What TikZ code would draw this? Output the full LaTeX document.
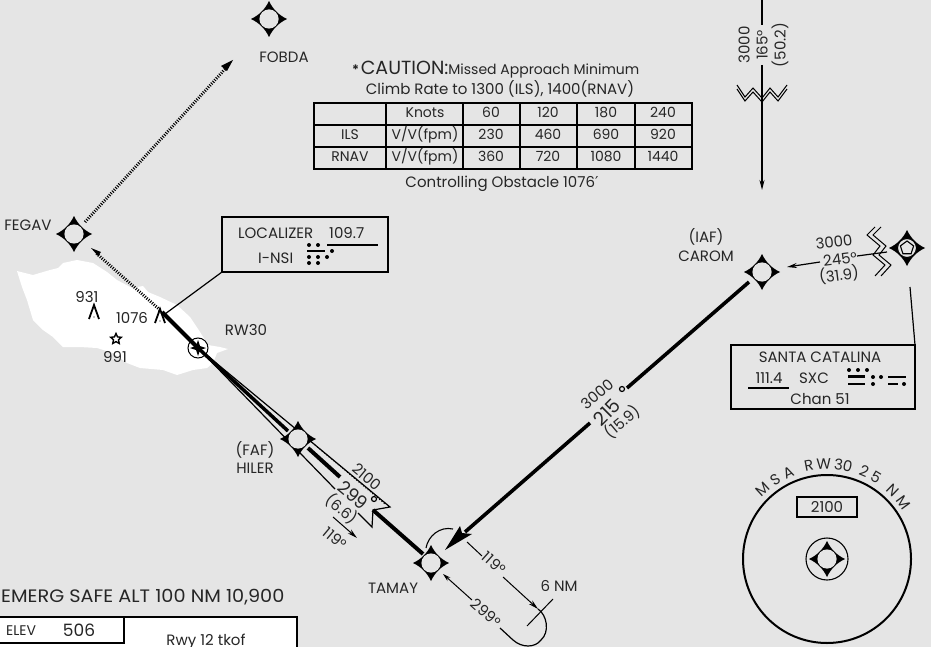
\documentclass[tikz,border=0pt]{standalone}
\usepackage{fontspec}
\setmainfont{Poppins}
\newfontfamily\djv{DejaVu Sans}
\usetikzlibrary{arrows.meta,shapes.geometric,calc}
\definecolor{bgc}{HTML}{E5E5E5}
\newcommand\fixsym[3]{%
  \coordinate (#1) at (#2,#3);
  \fill[black,shift={(#1)}] (18,0) .. controls (10,3.7) and (3.7,10) .. (0,18) .. controls (-3.7,10) and (-10,3.7) .. (-18,0) .. controls (-10,-3.7) and (-3.7,-10) .. (0,-18) .. controls (3.7,-10) and (10,-3.7) .. (18,0) -- cycle;
  \fill[bgc,shift={(#1)}] (0,0) circle (9.6);
}
\newcommand\obst[3]{%
  \coordinate (#1) at (#2,#3);
  \draw[line width=1.8,shift={(#1)},line join=miter] (-5,7) -- (0,-7) -- (5,7);
  \fill[shift={(#1)}] (0,5) circle (.7);
}
\tikzset{
  txt/.style={font=\fontsize{15}{17}\selectfont,inner sep=0,text=black!85},
  small/.style={font=\fontsize{15}{17}\selectfont,inner sep=0,text=black!85},
  bigt/.style={font=\fontsize{19}{21}\selectfont,inner sep=0,text=black!85},
  cell/.style={font=\fontsize{14}{16}\selectfont,inner sep=0,text=black!85,text height=10,text depth=2},
  tick/.style={line width=3,dash pattern=on 1 off 1.4},
  arr/.style={-{Stealth[length=10pt,width=5pt]}},
  dot/.style={circle,fill=black,inner sep=0,minimum size=4},
  mbar/.style={line width=2.2},
  deg/.style={circle,draw,line width=1.2,inner sep=0,minimum size=5}
}
\begin{document}
\begin{tikzpicture}[x=1pt,y=-1pt,line cap=butt]
\useasboundingbox (0,0) rectangle (931,647);
\fill[bgc] (0,0) rectangle (931,647);
% island
\fill[white] (17,271) -- (33,275) -- (50,270) -- (58,268) -- (63,263) -- (77,260) -- (93,263) -- (107,272) -- (117,280) -- (132,288) -- (143,286) -- (148,292) -- (160,297) -- (177,305) -- (190,317) -- (200,332) -- (208,345) -- (220,347) -- (228,349) -- (217,353) -- (213,363) -- (207,368) -- (193,370) -- (177,375) -- (163,370) -- (140,368) -- (127,363) -- (113,353) -- (97,348) -- (80,347) -- (63,347) -- (53,337) -- (43,330) -- (33,320) -- (27,300) -- (22,287) -- cycle;
% fixes
\fixsym{fegav}{74}{234}
\fixsym{fobda}{269}{19}
\fixsym{carom}{762}{272}
\fixsym{tamay}{431}{563}
\fixsym{vor}{907}{248}
\draw[line width=1.1] (vor) circle (9.5);
\draw[line width=1.1] (vor) ++(0,-7) -- ++(6.6,4.9) -- ++(-2.5,7.8) -- ++(-8.2,0) -- ++(-2.5,-7.8) -- cycle;
% labels
\node[txt] (lfegav) at (28,225) {FEGAV};
\node[txt] (lfobda) at (284,57) {FOBDA};
\node[txt] (lrw) at (246,330) {RW30};
\node[txt] (lfaf) at (255,450) {(FAF)};
\node[txt] (lhil) at (255,468) {HILER};
\node[txt] (ltam) at (393,588) {TAMAY};
\node[txt] (liaf) at (706,237) {(IAF)};
\node[txt] (lcar) at (706,256) {CAROM};
% dotted tracks
\coordinate (obs) at (160,310);
\coordinate (arrfeg) at (91,248);
\coordinate (arrfob) at (233,60);
\coordinate (fegout) at (85,222);
\draw[tick] (obs) -- (96,253);
\fill (arrfeg) -- (101,252) -- (98,256) -- cycle;
\draw[tick] (fegout) -- (226,68);
\fill (arrfob) -- (221,66) -- (227,71) -- cycle;
% obstacles
\obst{o931}{94}{312}
\obst{o1076}{160}{316}
\node[txt] (t931) at (87,297) {931};
\node[txt] (t1076) at (132,318) {1076};
\node[star,star points=5,star point ratio=2.1,draw,line width=1.4,fill=white,minimum size=11,inner sep=0] (pk) at (116,339) {};
\node[txt] (t991) at (115,357) {991};
% feather
\coordinate (rw) at (198,348);
\fill[bgc] (rw) -- (390,507) -- (373,510) -- (340,478) -- cycle;
\draw[line width=1.2,line join=miter] (rw) -- (390,507) -- (373,510) -- (372,527) -- (358,513);
\draw[line width=1.2] (rw) -- (335,489);
\draw[line width=1,dotted] (315,445) -- (385,504);
\draw[line width=4] (162,312) -- (rw);
\draw[line width=3.5] (rw) -- (288,431);
\draw[line width=4] (308,448) -- (340,477);
\coordinate (tamin) at (423,554);
\draw[line width=4] (373,510) -- (tamin);
\fixsym{hiler}{298}{439}
\draw[line width=1,fill=none] (rw) circle (10);
\fill (rw) ++(0,-8) -- ++(2,6) -- ++(6,2) -- ++(-6,2) -- ++(-2,6) -- ++(-2,-6) -- ++(-6,-2) -- ++(6,-2) -- cycle;
% feather text
\node[txt,rotate=-40] (t2100) at (367,477) {2100};
\node[font=\fontsize{18}{20}\selectfont,inner sep=0,text=black!85,rotate=-40] (t299) at (353,495) {299};
\node[deg] (d299) at (374,499) {};
\node[txt,rotate=-40] (t66) at (342,509) {(6.6)};
\coordinate (a1) at (333,517);
\coordinate (a2) at (357,538);
\draw[line width=1,arr] (a1) -- (a2);
\node[txt,rotate=-40] (t119a) at (335,538) {119°};
% approach CAROM-TAMAY
\coordinate (c1) at (749,282);
\coordinate (c2) at (627,388);
\coordinate (c3) at (590,423);
\coordinate (c4) at (445,550);
\draw[line width=3.6] (c1) -- (c2);
\draw[line width=3.6] (c3) -- (465,532);
\fill (c4) -- (472,534) -- (462,533) -- (460,526) -- cycle;
\node[txt,rotate=40] (t3000c) at (597,394) {3000};
\node[deg] (dc) at (622,389) {};
\node[bigt,rotate=45] (t215) at (607,412) {215};
\node[txt,rotate=40] (t159) at (622,422) {(15.9)};
% hold
\coordinate (arcA) at (426,548);
\coordinate (arcB) at (453,529);
\draw[line width=1.1] (arcA) .. controls (428,536) and (440,526) .. (arcB);
\coordinate (h1) at (443,574);
\coordinate (h2) at (472,600);
\draw[line width=1,{Stealth[length=8pt,width=4.5pt]}-] (h1) -- (h2);
\node[txt,rotate=-42] (t299b) at (486,613) {299°};
\coordinate (h3) at (500,628);
\coordinate (h4) at (538,609);
\draw[line width=1.2] (h3) -- (513,640) .. controls (522,648) and (535,648) .. (541,640) .. controls (550,632) and (547,615) .. (h4);
\coordinate (h5) at (503,577);
\draw[line width=1,arr] (h5) -- (h4);
\coordinate (h6) at (467,542);
\coordinate (h7) at (482,556);
\draw[line width=1] (h6) -- (h7);
\node[txt,rotate=-42] (t119b) at (494,563) {119°};
\coordinate (tk1) at (553,599);
\coordinate (tk2) at (527,626);
\draw[line width=1] (tk1) -- (tk2);
\node[txt] (t6nm) at (559,586) {6 NM};
% inbound from north
\coordinate (n0) at (762,0);
\coordinate (n1) at (762,25);
\coordinate (n2) at (762,65);
\coordinate (n3) at (762,190);
\draw[line width=1.3] (n0) -- (n1);
\draw[line width=1.3,arr] (n2) -- (n3);
\node[txt,rotate=90] (t3000n) at (744,45) {3000};
\node[txt,rotate=90] (t165) at (762,45) {165°};
\node[txt,rotate=90] (t502) at (780,45) {(50.2)};
\draw[line width=1,line join=miter] (737,85) -- (745,97) -- (753,88) -- (762,98) -- (770,88) -- (778,97) -- (787,85);
\draw[line width=1,line join=miter] (737,89) -- (745,101) -- (753,92) -- (762,102) -- (770,92) -- (778,101) -- (787,89);
% arrow into CAROM
\coordinate (cr1) at (820,262);
\coordinate (cr2) at (787,267);
\draw[line width=1.2,arr] (cr1) -- (cr2);
\coordinate (cr3) at (857,256);
\coordinate (cr4) at (887,252);
\draw[line width=1.2] (cr3) -- (cr4);
\draw[line width=1,line join=miter] (875,227) -- (867,235) -- (880,246) -- (873,255) -- (885,265) -- (875,276);
\draw[line width=1,line join=miter] (881,227) -- (873,235) -- (886,246) -- (879,255) -- (891,265) -- (881,276);
\node[txt,rotate=7] (t3000i) at (834,242) {3000};
\node[txt,rotate=7] (t245) at (840,259) {245°};
\node[txt,rotate=7] (t319) at (839,275) {(31.9)};
% Localizer box
\draw[line width=2,fill=bgc] (222,217) rectangle (388,272);
\coordinate (lbc) at (222,272);
\coordinate (lbo) at (165,314);
\draw[line width=1.2] (lbc) -- (lbo);
\node[txt,anchor=west] (tloc) at (238,233) {LOCALIZER};
\node[txt,anchor=west] (tfreq) at (329,233) {109.7};
\draw[line width=1.2] (327,245) -- (378,245);
\node[txt,anchor=west] (tinsi) at (258,258) {I-NSI};
\foreach \i/\x/\y in {a/309/245,b/318/245,c/309/257,d/318/257,e/327/257,f/309/263,g/318/263,h/332/251}
  \node[dot] (m\i) at (\x,\y) {};
\draw[mbar] (307,251) -- (325,251);
% Catalina box
\draw[line width=1.3,fill=bgc] (731,345) rectangle (915,409);
\coordinate (cb) at (915,345);
\coordinate (cv) at (910,287);
\draw[line width=1.2] (cv) -- (cb);
\node[txt] (tsc) at (820,357) {SANTA CATALINA};
\node[txt] (tf) at (769,378) {111.4};
\draw[line width=1.2] (748,388) -- (789,388);
\node[txt] (tsxc) at (814,378) {SXC};
\node[txt] (tch) at (820,399) {Chan 51};
\foreach \i/\x/\y in {a/849/370,b/858/370,c/867/370,d/873/377,e/873/384,f/881/377,g/904/384}
  \node[dot] (s\i) at (\x,\y) {};
\draw[mbar] (848,376.5) -- (865,376.5);
\draw[mbar] (848,384) -- (865,384);
\draw[mbar] (888,377) -- (906,377);
\draw[mbar] (888,384) -- (898,384);
% Caution
\node[inner sep=0,text=black!85,anchor=west] (ca) at (352,70) {{\fontsize{13}{15}\selectfont\textbf{*}}\,{\fontsize{19}{21}\selectfont CAUTION:}{\fontsize{14}{16}\selectfont Missed Approach Minimum}};
\node[small] (cb2) at (500,89) {Climb Rate to 1300 (ILS), 1400(RNAV)};
\draw[line width=1.8] (314,103) rectangle (692,169);
\foreach \x in {386,463,520,577,635} \draw[line width=1.6] (\x,103) -- (\x,169);
\foreach \y in {125,147} \draw[line width=1.6] (314,\y) -- (692,\y);
\node[cell] (c11) at (425,114) {Knots};
\node[cell] (c12) at (491,114) {60};
\node[cell] (c13) at (548,114) {120};
\node[cell] (c14) at (606,114) {180};
\node[cell] (c15) at (663,114) {240};
\node[cell] (c20) at (350,136) {ILS};
\node[cell] (c21) at (425,136) {V/V(fpm)};
\node[cell] (c22) at (491,136) {230};
\node[cell] (c23) at (548,136) {460};
\node[cell] (c24) at (606,136) {690};
\node[cell] (c25) at (663,136) {920};
\node[cell] (c30) at (350,158) {RNAV};
\node[cell] (c31) at (425,158) {V/V(fpm)};
\node[cell] (c32) at (491,158) {360};
\node[cell] (c33) at (548,158) {720};
\node[cell] (c34) at (606,158) {1080};
\node[cell] (c35) at (663,158) {1440};
\node[small] (co) at (502,184) {Controlling Obstacle 1076{\djv ′}};
% MSA
\coordinate (msactr) at (827,559);
\draw[line width=2] (msactr) circle (84);
\draw[line width=1.1] (msactr) circle (21);
\fixsym{msaf}{827}{559}
\draw[line width=1.6,fill=bgc] (797,497) rectangle (857,517);
\node[txt] (t2100b) at (827,507) {2100};
\foreach \l/\a/\n in {M/-42.5/a,S/-33/b,A/-24/c,R/-11/d,W/-2/e,3/7/f,0/12.5/g,2/23/h,5/31/i,N/44/j,M/54/k}
  \node[txt,rotate=-\a] (ms\n) at ($(msactr)+(90-\a:95pt)$) {\l};
% Bottom
\node[font=\fontsize{18}{20}\selectfont,xscale=1.07,inner sep=0,anchor=west,text=black!85] (em) at (1,597) {EMERG SAFE ALT 100 NM 10,900};
\fill[white] (0,617) rectangle (297,647);
\draw[line width=2] (0,617) -- (297,617) -- (297,648);
\draw[line width=2] (124,617) -- (124,643) -- (0,643);
\node[anchor=west,font=\fontsize{14}{16}\selectfont,inner sep=0,text=black!85] (tel) at (6,631) {ELEV};
\node[font=\fontsize{17}{19}\selectfont,inner sep=0,text=black!85] (t506) at (79,630) {506};
\node[small] (trwy) at (206,642) {Rwy 12 tkof};
\end{tikzpicture}
\end{document}
